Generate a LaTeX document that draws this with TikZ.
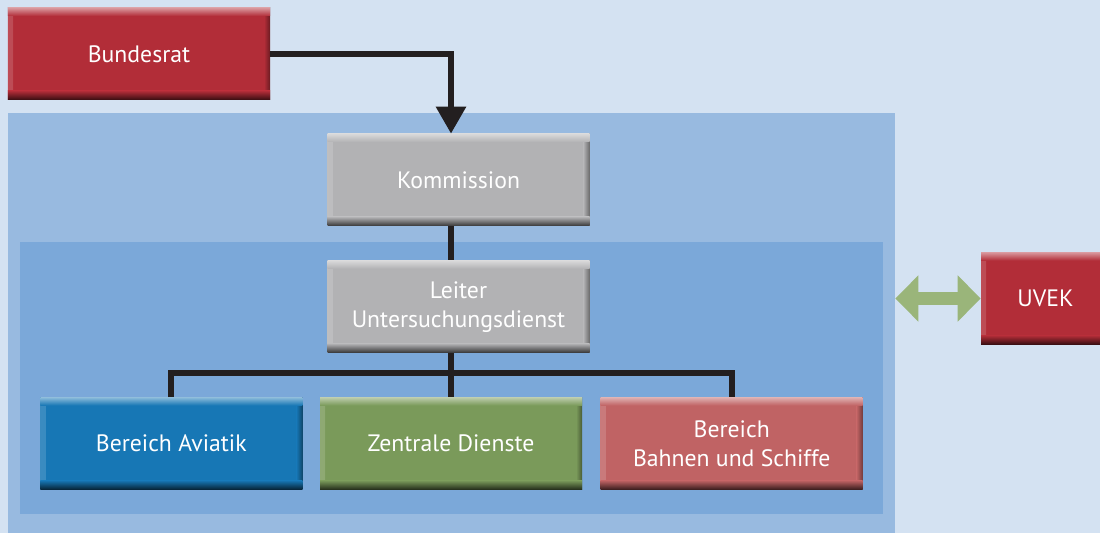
\documentclass[tikz,border=0pt]{standalone}
\usepackage{fontspec}
\setmainfont{PT Sans}
\usetikzlibrary{positioning, calc, arrows.meta}

\definecolor{sky}{HTML}{D4E2F2}
\definecolor{outerblue}{HTML}{98BAE0}
\definecolor{innerblue}{HTML}{7BA8D9}
\definecolor{boxred}{HTML}{B22D38}
\definecolor{boxgray}{HTML}{B2B2B4}
\definecolor{boxblue}{HTML}{1777B5}
\definecolor{boxgreen}{HTML}{7A9A5A}
\definecolor{boxrose}{HTML}{C06364}
\definecolor{linkgreen}{HTML}{9AB57A}
\definecolor{wire}{HTML}{231F20}

\newcommand\unitfont{\fontsize{13.5}{16.5}\selectfont}

\tikzset{
  unit/.style={fill=#1, text=white, font=\unitfont, align=center, inner sep=0pt,
    minimum width=5.24cm, minimum height=1.84cm,
    path picture={
      \shade[left color=#1!85!white, right color=#1] (path picture bounding box.north west) rectangle ([xshift=0.1cm]path picture bounding box.south west);
      \shade[left color=#1, right color=#1!60!black] ([xshift=-0.12cm]path picture bounding box.north east) rectangle (path picture bounding box.south east);
      \shade[top color=#1!50!white, bottom color=#1] (path picture bounding box.north west) rectangle ([yshift=-0.16cm]path picture bounding box.north east);
      \shade[top color=#1, bottom color=#1!30!black] ([yshift=0.18cm]path picture bounding box.south west) rectangle (path picture bounding box.south east);
    }},
  wireline/.style={draw=wire, line width=0.12cm},
}

\begin{document}
\begin{tikzpicture}
    \useasboundingbox (0,0) rectangle (22,10.66);
    \clip (0,0) rectangle (22,10.66);
    \fill[sky] (0,0) rectangle (22,10.66);

    % panels
    \node (panel) at (9.03,4.2) [fill=outerblue, inner sep=0pt, minimum width=17.74cm, minimum height=8.4cm] {};
    \node (staff) at (9.03,3.1) [fill=innerblue, inner sep=0pt, minimum width=17.26cm, minimum height=5.44cm] {};

    % boxes
    \node (bundesrat) at (2.78,9.58) [unit=boxred] {Bundesrat};
    \node (kommission) at (9.17,7.06) [unit=boxgray] {Kommission};
    \node[below=0.68cm of kommission] (leiter) [unit=boxgray] {Leiter\\Untersuchungsdienst};
    \node[below=0.88cm of leiter, xshift=-0.15cm] (zentrale) [unit=boxgreen] {Zentrale Dienste};
    \node[left=0.34cm of zentrale] (aviatik) [unit=boxblue] {Bereich Aviatik};
    \node[right=0.36cm of zentrale] (bahnen) [unit=boxrose] {Bereich\\Bahnen und Schiffe};
    \node (uvek) at (20.91,4.69) [unit=boxred, minimum width=2.58cm] {UVEK};

    % connectors
    \draw[wireline, -{Triangle[width=0.58cm, length=0.54cm]}] (bundesrat.east) -| (zentrale |- kommission.north);
    \draw[wireline] (zentrale |- kommission.south) -- (zentrale |- leiter.north);
    \coordinate (fork) at ([yshift=-0.4cm]zentrale |- leiter.south);
    \draw[wireline] (zentrale |- leiter.south) -- (zentrale.north);
    \draw[wireline] (aviatik.north) |- (fork) -| (bahnen.north);

    \draw[linkgreen, line width=0.26cm, {Triangle[width=0.9cm, length=0.46cm]}-{Triangle[width=0.9cm, length=0.46cm]}] (panel.east |- uvek) -- (uvek.west);
\end{tikzpicture}
\end{document}
